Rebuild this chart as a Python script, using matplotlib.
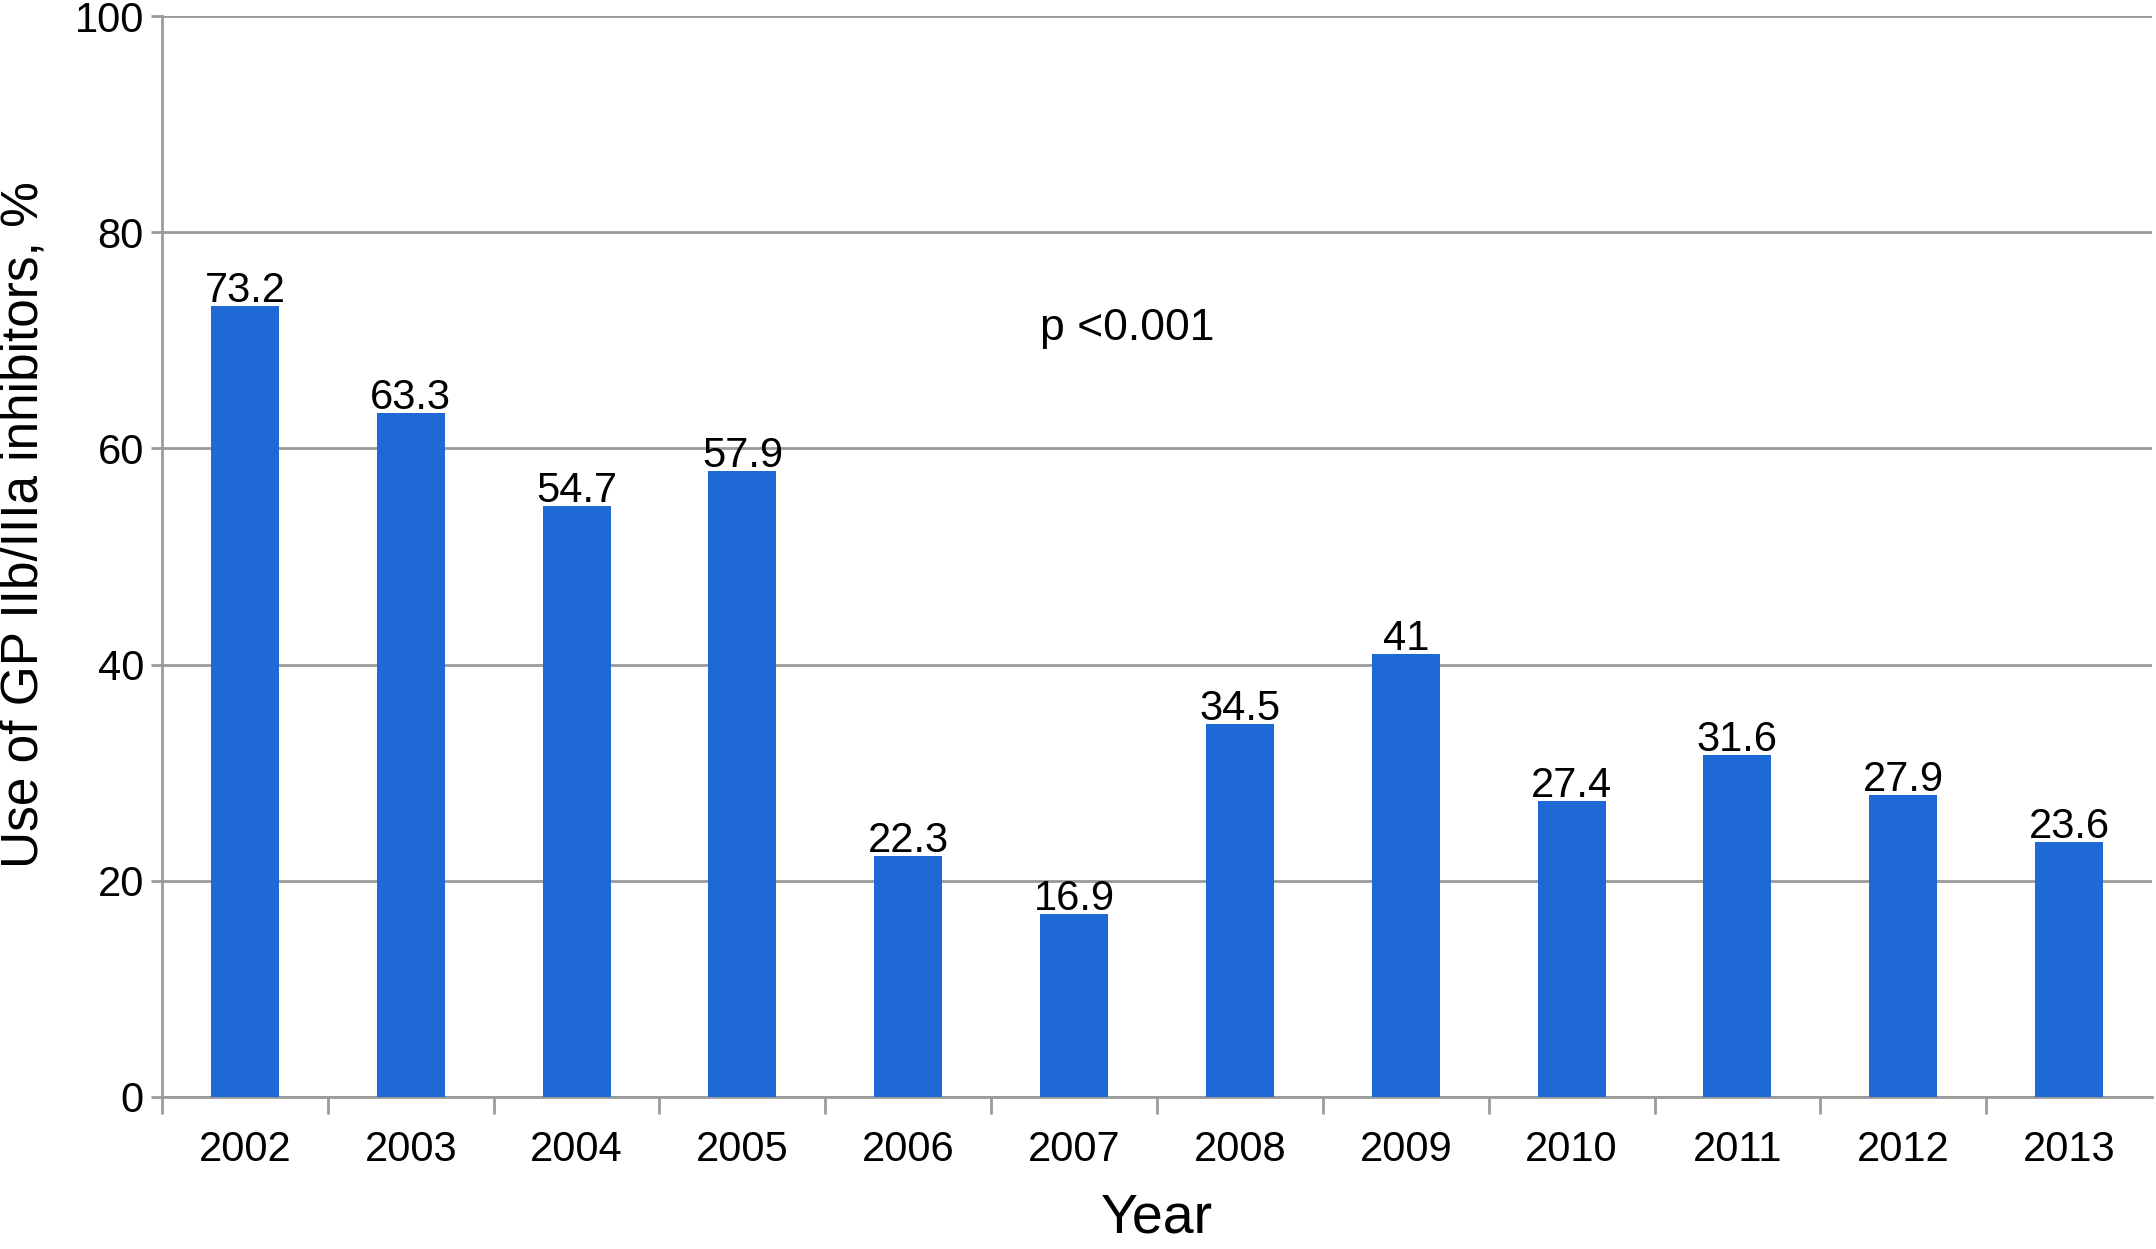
import numpy as np
from matplotlib import pyplot as plt
from matplotlib.ticker import FixedLocator

years = ["2002", "2003", "2004", "2005", "2006", "2007",
         "2008", "2009", "2010", "2011", "2012", "2013"]
use_pct = [73.2, 63.3, 54.7, 57.9, 22.3, 16.9, 34.5, 41, 27.4, 31.6, 27.9, 23.6]
bar_labels = ["73.2", "63.3", "54.7", "57.9", "22.3", "16.9",
              "34.5", "41", "27.4", "31.6", "27.9", "23.6"]
yticks = [0, 20, 40, 60, 80, 100]

plt.rcParams['font.family'] = ['Liberation Sans', 'DejaVu Sans']

fig = plt.figure(figsize=(21.56, 12.49), dpi=100)
ax = fig.add_axes([162 / 2156, 152 / 1249, (2152 - 162) / 2156, (1097 - 16) / 1249])

grey = '#9a9a9a'
x = np.arange(len(years))
ax.bar(x, use_pct, width=0.41, color='#1F69D6', zorder=3)

# valeurs au-dessus des barres
for xi, v, lab in zip(x, use_pct, bar_labels):
    ax.annotate(lab, (xi, v), xytext=(0, 3), textcoords='offset points',
                ha='center', va='baseline', fontsize=30)

ax.text(5.32, 70, "p <0.001", ha='center', va='baseline', fontsize=32)

ax.set_xlim(-0.5, len(years) - 0.5)
ax.set_ylim(0, 100)
ax.set_yticks(yticks)
ax.set_xticks(x)
ax.set_xticklabels(years)
ax.xaxis.set_minor_locator(FixedLocator(np.arange(len(years)) - 0.5))

ax.grid(axis='y', color=grey, linewidth=2, zorder=0)
ax.tick_params(axis='y', length=8, width=2, color=grey, labelsize=30, pad=5)
ax.tick_params(axis='x', which='major', length=0, labelsize=30, pad=24)
ax.tick_params(axis='x', which='minor', length=12, width=2, color=grey)

for s in ['top', 'right']:
    ax.spines[s].set_visible(False)
for s in ['left', 'bottom']:
    ax.spines[s].set_color(grey)
    ax.spines[s].set_linewidth(2)

ax.set_xlabel("Year", fontsize=40, labelpad=16)
ax.set_ylabel("Use of GP IIb/IIIa inhibitors, %", fontsize=37)
ax.yaxis.set_label_coords(-0.057, 0.53)

fig.savefig("out.png", dpi=100)
